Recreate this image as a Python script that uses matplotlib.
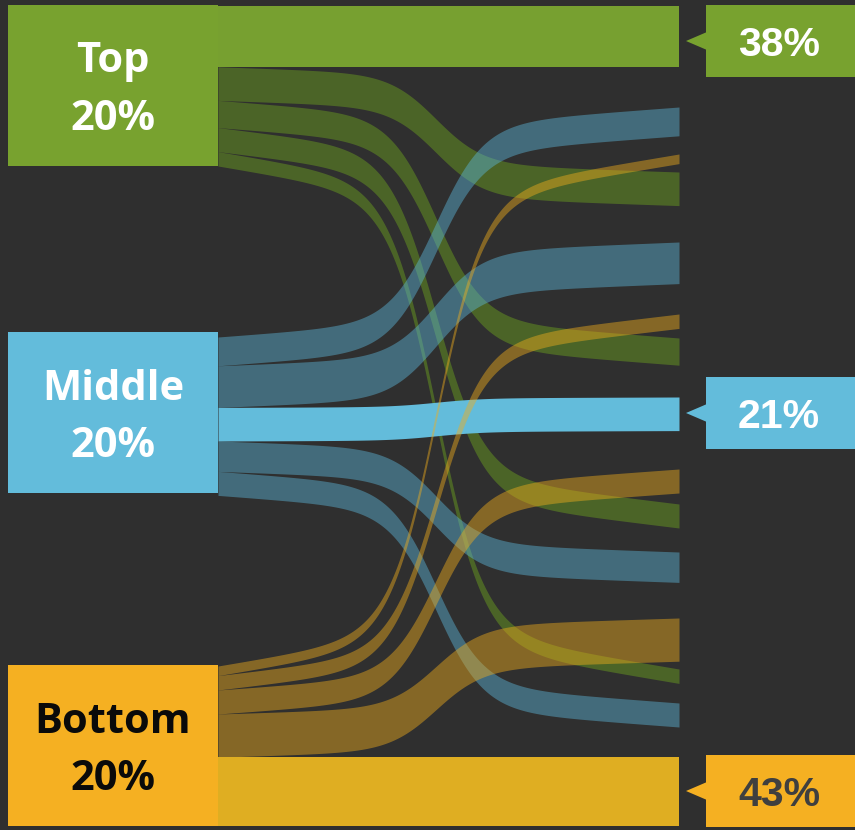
import numpy as np
import matplotlib.pyplot as plt
import matplotlib.patches as patches

# grupy po lewej stronie
groups = ['Top', 'Middle', 'Bottom']
group_share = ['20%', '20%', '20%']

# ile procent zostaje w tej samej grupie (etykiety po prawej)
stay = [38, 21, 43]
stay_labels = ['38%', '21%', '43%']

# przeplywy do pozostalych pasow po prawej: A, B, C, D (od gory)
dest_bands = ['A', 'B', 'C', 'D']
flows_top = [21, 17, 15, 9]
flows_middle = [18, 26, 19, 15]
flows_bottom = [6, 9, 15, 27]

# kolory
BG = '#2f2f2f'
colors = {'Top': '#78a22f', 'Middle': '#63bcdb', 'Bottom': '#f5b022'}
flow_colors = {'Top': '#6fa51f', 'Middle': '#5cb6d8', 'Bottom': '#f0ad1c'}
text_colors = {'Top': 'white', 'Middle': 'white', 'Bottom': '#0a0a0a'}
label_text = {'Top': 'white', 'Middle': 'white', 'Bottom': '#3f3f3f'}
stay_band_color = {'Top': '#77a030', 'Middle': '#63bcdb', 'Bottom': '#dfae22'}

# uklad (w pikselach obrazka)
PX = 1.6                      # pikseli na 1%
X0, X1 = 218, 679             # zakres przeplywow
box_top = {'Top': 5, 'Middle': 332, 'Bottom': 665}
box_h = 161
flow_start = {'Top': 6, 'Middle': 337, 'Bottom': 666}
label_center = {'Top': 41, 'Middle': 413, 'Bottom': 791}
# gdzie po prawej zaczyna sie kazdy przeplyw
right_top = {
    ('Top', 'A'): 172, ('Top', 'B'): 338, ('Top', 'C'): 504, ('Top', 'D'): 669,
    ('Middle', 'A'): 107, ('Middle', 'B'): 242, ('Middle', 'C'): 552, ('Middle', 'D'): 703,
    ('Bottom', 'A'): 154, ('Bottom', 'B'): 314, ('Bottom', 'C'): 469, ('Bottom', 'D'): 618,
    ('Middle', 'stay'): 397,
}


def sweep(xs):
    # krzywa S: logistyczna + troche liniowej
    t = (xs - X0) / (X1 - X0)
    lg = 1 / (1 + np.exp(-(t - 0.473) / 0.0512))
    lg = (lg - lg[0]) / (lg[-1] - lg[0])
    return 0.15 * t + 0.85 * lg


def draw_flow(ax, y_left, y_right, width, color, alpha):
    xs = np.linspace(X0, X1, 300)
    s = sweep(xs)
    top = y_left + (y_right - y_left) * s
    ax.fill_between(xs, top, top + width, color=color, alpha=alpha, lw=0, zorder=2)


fig = plt.figure(figsize=(8.55, 8.30), dpi=100)
fig.patch.set_facecolor(BG)
ax = fig.add_axes([0, 0, 1, 1])
ax.set_facecolor(BG)
ax.set_xlim(0, 855)
ax.set_ylim(830, 0)
ax.axis('off')

flow_values = {'Top': flows_top, 'Middle': flows_middle, 'Bottom': flows_bottom}

for i, g in enumerate(groups):
    vals = flow_values[g]
    # kolejnosc po lewej: wg polozenia celu
    order = [(d, v) for d, v in zip(dest_bands, vals)]
    if g == 'Top':
        order = [('stay', stay[i])] + order
    elif g == 'Middle':
        order = order[:2] + [('stay', stay[i])] + order[2:]
    else:
        order = order + [('stay', stay[i])]

    y = flow_start[g]
    for d, v in order:
        w = v * PX
        if d == 'stay':
            yr = right_top.get((g, 'stay'), y)
            draw_flow(ax, y, yr, w, stay_band_color[g], 1.0)
        else:
            draw_flow(ax, y, right_top[(g, d)], w, flow_colors[g], 0.45)
        y += w

for i, g in enumerate(groups):
    # prostokat po lewej
    ax.add_patch(patches.Rectangle((8, box_top[g]), X0 - 8, box_h,
                                   facecolor=colors[g], lw=0, zorder=5))
    cy = box_top[g] + box_h / 2
    ax.text(113, cy - 13, g, ha='center', va='baseline', fontsize=30,
            fontweight='bold', family='Open Sans', color=text_colors[g], zorder=6)
    ax.text(113, cy + 44, group_share[i], ha='center', va='baseline', fontsize=30,
            fontweight='bold', family='Open Sans', color=text_colors[g], zorder=6)

    # etykieta po prawej ze strzalka
    lc = label_center[g]
    ax.add_patch(patches.Rectangle((706, lc - 36), 149, 72,
                                   facecolor=colors[g], lw=0, zorder=5))
    ax.add_patch(patches.Polygon([(686, lc), (707, lc - 9), (707, lc + 9)],
                                 closed=True, facecolor=colors[g], lw=0, zorder=5))
    ax.text(779, lc + 15, stay_labels[i], ha='center', va='baseline', fontsize=29.5,
            fontweight='bold', family='Liberation Sans', color=label_text[g], zorder=6)

fig.savefig('out.png', dpi=100, facecolor=BG)
